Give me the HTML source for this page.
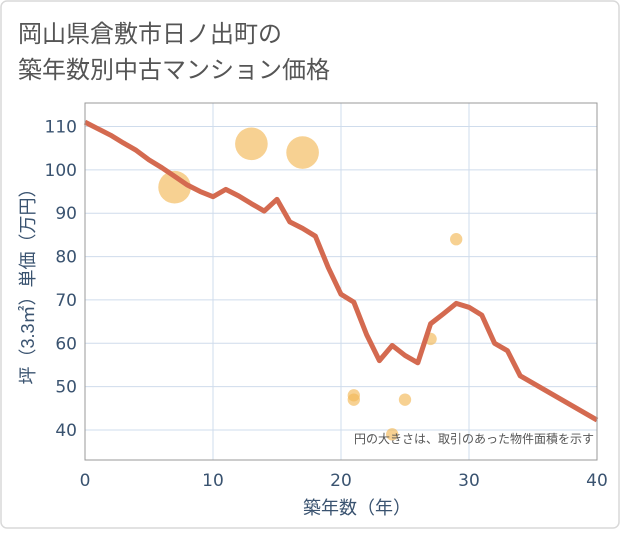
<!DOCTYPE html>
<html><head><meta charset="utf-8"><style>
body{margin:0;background:#fff;font-family:"Liberation Sans","Noto Sans CJK JP",sans-serif;}
#wrap{position:relative;width:621px;height:530px;}
</style></head><body>
<div id="wrap">
<svg id="chart" width="621" height="530" xmlns="http://www.w3.org/2000/svg">
<rect x="1" y="1" width="618" height="527" rx="6" fill="#fff" stroke="#d9d9d9" stroke-width="1.5"/>
<text x="18" y="42" font-size="24" fill="#555" font-family="Liberation Sans, Noto Sans CJK JP, sans-serif">岡山県倉敷市日ノ出町の</text>
<text x="18" y="78" font-size="24" fill="#555" font-family="Liberation Sans, Noto Sans CJK JP, sans-serif">築年数別中古マンション価格</text>
<g id="grid"></g>
<g id="bubbles"></g>
<g id="line"></g>
<g id="axes"></g>
<text x="594" y="443" font-size="12" fill="#555" text-anchor="end" font-family="Liberation Sans, Noto Sans CJK JP, sans-serif">円の大きさは、取引のあった物件面積を示す</text>
<text x="357" y="514" font-size="18" fill="#3a5370" text-anchor="middle" font-family="Liberation Sans, Noto Sans CJK JP, sans-serif">築年数（年）</text>
<text transform="translate(34,282) rotate(-90)" font-size="18" fill="#3a5370" text-anchor="middle" font-family="Liberation Sans, Noto Sans CJK JP, sans-serif">坪（3.3㎡）単価（万円）</text>
</svg>
</div>
<script>
const xTicks=[0,10,20,30,40];
const yTicks=[40,50,60,70,80,90,100,110];
const lineYears=[0,1,2,3,4,5,6,7,8,9,10,11,12,13,14,15,16,17,18,19,20,21,22,23,24,25,26,27,28,29,30,31,32,33,34,35,36,37,38,39,40];
const lineValues=[111,109.5,108,106.2,104.5,102.3,100.5,98.5,96.5,95,93.8,95.5,94,92.2,90.5,93.2,88,86.5,84.7,77.5,71.3,69.5,62,56,59.5,57.2,55.5,64.5,66.8,69.2,68.3,66.5,60,58.3,52.5,50.8,49.1,47.4,45.7,44,42.3];
const bubbleYears=[7,13,17,21,21,24,25,27,29];
const bubbleValues=[96,106,104,48,47,39,47,61,84];
const bubbleAreas=[70,70,70,10,10,10,10,10,10];

const L=85,R=597,T=103,B=460;
const xs=v=>L+(v-0)/40*(R-L);
const ys=v=>430-(v-40)*(430-126.5)/70;
const NS="http://www.w3.org/2000/svg";
function mk(tag,attrs,parent){const e=document.createElementNS(NS,tag);for(const k in attrs)e.setAttribute(k,attrs[k]);parent.appendChild(e);return e;}
const grid=document.getElementById('grid'),axes=document.getElementById('axes');
yTicks.forEach(t=>{
 const g=mk('line',{x1:L,x2:R,y1:ys(t),y2:ys(t),stroke:'#cfdcec','stroke-width':1},grid);
 
 
 const tx=mk('text',{x:L-8,y:ys(t)+6,'font-size':17,fill:'#3a5370','text-anchor':'end','font-family':'DejaVu Sans, sans-serif'},axes);
 tx.textContent=t;
 
 
});
xTicks.forEach(t=>{
 if(t>0&&t<40){const g=mk('line',{x1:xs(t),x2:xs(t),y1:T,y2:B,stroke:'#cfdcec','stroke-width':1},grid);
 
 }
 const tx=mk('text',{x:xs(t),y:B+26,'font-size':17,fill:'#3a5370','text-anchor':'middle','font-family':'DejaVu Sans, sans-serif'},axes);
 tx.textContent=t;
 
 
});
const fr=mk('rect',{x:L,y:T,width:R-L,height:B-T,fill:'none',stroke:'#999','stroke-width':1},axes);


const bg=document.getElementById('bubbles');
bubbleYears.forEach((y,i)=>{
 const r=Math.sqrt(bubbleAreas[i])*1.95;
 const c=mk('circle',{cx:xs(y),cy:ys(bubbleValues[i]),r:r,fill:'#f3b857','fill-opacity':0.65},bg);
 
 
});
const pts=lineYears.map((y,i)=>xs(y)+','+ys(lineValues[i])).join(' ');
const pl=mk('polyline',{points:pts,fill:'none',stroke:'#d46a50','stroke-width':5,'stroke-linejoin':'round'},document.getElementById('line'));


</script>
</body></html>
